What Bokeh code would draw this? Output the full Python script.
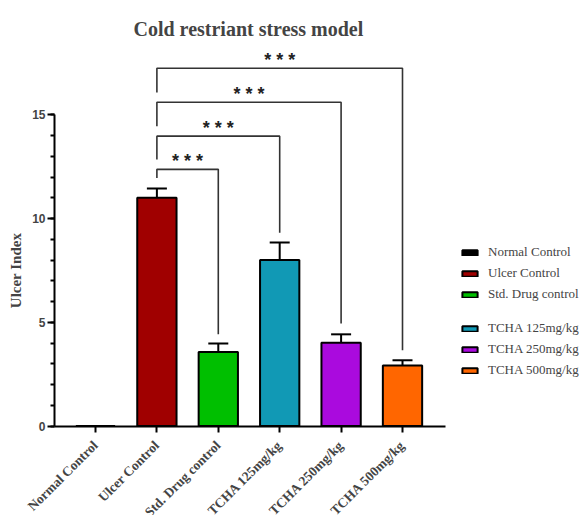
import math
from bokeh.plotting import figure
from bokeh.models import (ColumnDataSource, Range1d, FixedTicker, Whisker,
                          TeeHead, Legend, LegendItem, Title)
from bokeh.core.properties import value
from bokeh.embed import file_html
from bokeh.resources import INLINE

categories = ["Normal Control", "Ulcer Control", "Std. Drug control",
              "TCHA 125mg/kg", "TCHA 250mg/kg", "TCHA 500mg/kg"]
means = [0.0, 11.0, 3.57, 8.0, 4.02, 2.92]
sems = [0.0, 0.45, 0.41, 0.84, 0.40, 0.25]
colors = ["#000000", "#A00000", "#00BF00", "#1199B5", "#AA0ADE", "#FF6600"]

# significance brackets: Ulcer Control vs each treatment
cmp_targets = ["Std. Drug control", "TCHA 125mg/kg", "TCHA 250mg/kg", "TCHA 500mg/kg"]
bracket_top = [12.37, 13.97, 15.6, 17.24]
bracket_left_low = [11.95, 12.84, 14.45, 16.07]
bracket_right_low = [4.42, 9.31, 4.94, 3.65]
bracket_label = ["* * *", "* * *", "* * *", "* * *"]

serif = "Liberation Serif"
sans = "Liberation Sans"

pos = list(range(len(categories)))  # slot of each category on the x scale
AX_LO, AX_HI = -0.667, 5.70         # extent of the x axis line (layout)

p = figure(width=584, height=515, output_backend="svg", toolbar_location=None,
           x_range=Range1d(-1.547, 7.964), y_range=Range1d(-4.31, 18.53),
           min_border_left=0, min_border_right=0, min_border_top=41, min_border_bottom=0)
p.add_layout(Title(text="Cold restriant stress model", align="left", offset=133,
                   text_font=serif, text_font_size="20px", text_font_style="bold",
                   standoff=4), "above")
p.add_layout(Title(text=" ", text_font_size="1px", standoff=8), "above")
p.outline_line_color = None
p.xgrid.grid_line_color = None
p.ygrid.grid_line_color = None

src = ColumnDataSource(dict(x=pos, mean=means, color=colors,
                            upper=[m + s for m, s in zip(means, sems)],
                            lower=[m - s for m, s in zip(means, sems)]))
bars = p.vbar(x="x", top="mean", width=0.64, source=src, fill_color="color",
              line_color="black", line_width=2)

wsrc = ColumnDataSource(dict(x=pos[1:], upper=src.data["upper"][1:],
                             lower=src.data["lower"][1:]))
w = Whisker(base="x", upper="upper", lower="lower", source=wsrc, line_width=2,
            line_color="black",
            upper_head=TeeHead(size=20, line_width=2, line_color="black"),
            lower_head=TeeHead(size=20, line_width=2, line_color="black"))
p.add_layout(w)

xs, ys = [], []
sx, sy = [], []
ref = categories.index("Ulcer Control")
for t, top, ll, rl in zip(cmp_targets, bracket_top, bracket_left_low, bracket_right_low):
    ti = categories.index(t)
    xs.append([ref, ref, ti, ti])
    ys.append([ll, top, top, rl])
    sx.append((ref + ti) / 2)
    sy.append(top)
p.multi_line(xs=xs, ys=ys, line_color="#333333", line_width=1.6)
p.text(x=sx, y=sy, text=bracket_label, text_align="center", text_baseline="alphabetic",
       text_font=value(sans), text_font_style="bold", text_font_size="18px",
       text_color="#222222", y_offset=-8)

# axes
p.yaxis.ticker = FixedTicker(ticks=[0, 5, 10, 15], minor_ticks=list(range(0, 16)))
p.yaxis.bounds = (0, 15)
p.yaxis.fixed_location = AX_LO
p.yaxis.axis_label = "Ulcer Index"
p.yaxis.axis_label_text_font = serif
p.yaxis.axis_label_text_font_size = "15px"
p.yaxis.axis_label_text_font_style = "bold"
p.yaxis.axis_label_standoff = 5
p.yaxis.major_label_text_font = sans
p.yaxis.major_label_text_font_style = "bold"
p.yaxis.major_label_text_font_size = "12px"
p.yaxis.major_label_standoff = 2
for ax in (p.xaxis, p.yaxis):
    ax.axis_line_width = 2
    ax.major_tick_line_width = 2
    ax.minor_tick_line_width = 2
    ax.major_tick_in = 0
    ax.minor_tick_in = 0
p.yaxis.major_tick_out = 7
p.yaxis.minor_tick_out = 4
p.xaxis.ticker = FixedTicker(ticks=pos, minor_ticks=[])
p.xaxis.major_label_overrides = {i: c for i, c in zip(pos, categories)}
p.xaxis.bounds = (AX_LO, AX_HI)
p.xaxis.fixed_location = 0
p.xaxis.major_tick_out = 6
p.xaxis.major_label_orientation = math.pi / 4
p.xaxis.major_label_text_font = serif
p.xaxis.major_label_text_font_style = "bold"
p.xaxis.major_label_text_font_size = "13.5px"
p.xaxis.major_label_standoff = 11

groups = [(range(0, 3), (460, 213)), (range(3, 6), (460, 137))]
for rng, loc in groups:
    items = [LegendItem(label=categories[i], renderers=[bars], index=i) for i in rng]
    lg = Legend(items=items, location=loc, glyph_width=19, glyph_height=7,
                label_height=16, spacing=5, label_standoff=9, padding=0, margin=0,
                border_line_color=None, background_fill_alpha=0,
                label_text_font=serif, label_text_font_size="13px")
    p.add_layout(lg)

open("out.html", "w").write(file_html(p, INLINE))
